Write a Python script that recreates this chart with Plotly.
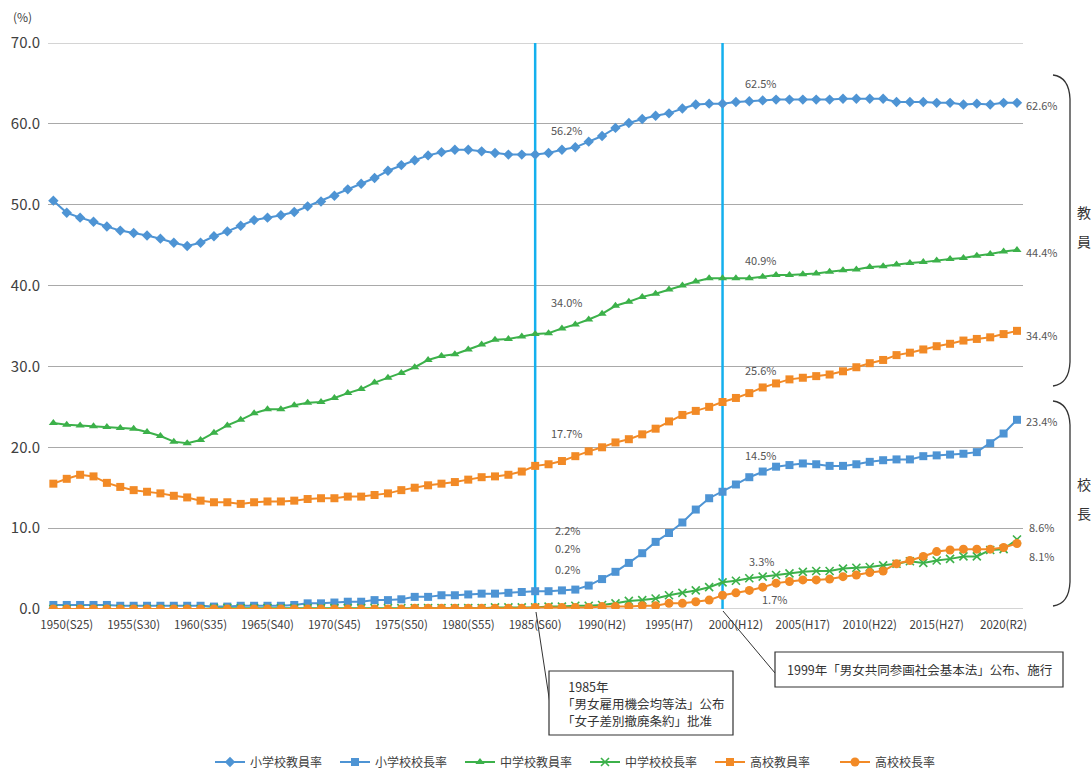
import plotly.graph_objects as go

# ---- data -------------------------------------------------------------
years = list(range(1949, 2022))

elem_teacher = [50.5, 49.0, 48.4, 47.9, 47.3, 46.8, 46.5, 46.2, 45.8, 45.3,
                44.9, 45.3, 46.1, 46.7, 47.4, 48.1, 48.4, 48.7, 49.1, 49.8,
                50.4, 51.1, 51.9, 52.6, 53.3, 54.2, 54.9, 55.5, 56.1, 56.5,
                56.8, 56.8, 56.6, 56.4, 56.2, 56.2, 56.2, 56.4, 56.8, 57.1,
                57.8, 58.5, 59.5, 60.1, 60.6, 61.0, 61.3, 61.9, 62.4, 62.5,
                62.5, 62.7, 62.8, 62.9, 63.0, 63.0, 63.0, 63.0, 63.0, 63.1,
                63.1, 63.1, 63.1, 62.7, 62.7, 62.7, 62.6, 62.6, 62.4, 62.5,
                62.4, 62.6, 62.6]

elem_principal = [0.5, 0.5, 0.5, 0.5, 0.5, 0.4, 0.4, 0.4, 0.4, 0.4,
                  0.4, 0.4, 0.3, 0.3, 0.4, 0.4, 0.4, 0.4, 0.5, 0.7,
                  0.7, 0.8, 0.9, 0.9, 1.1, 1.1, 1.2, 1.5, 1.5, 1.7,
                  1.7, 1.8, 1.9, 1.9, 2.0, 2.1, 2.2, 2.2, 2.3, 2.4,
                  2.9, 3.7, 4.6, 5.7, 6.9, 8.3, 9.4, 10.7, 12.3, 13.7,
                  14.5, 15.4, 16.3, 17.0, 17.6, 17.8, 18.0, 17.9, 17.7, 17.7,
                  17.9, 18.2, 18.4, 18.5, 18.5, 18.9, 19.0, 19.1, 19.2, 19.4,
                  20.5, 21.7, 23.4]

jhs_teacher = [23.0, 22.8, 22.7, 22.6, 22.5, 22.4, 22.3, 21.9, 21.4, 20.7,
               20.5, 20.9, 21.8, 22.7, 23.4, 24.2, 24.7, 24.7, 25.2, 25.5,
               25.6, 26.1, 26.7, 27.2, 28.0, 28.6, 29.2, 29.9, 30.8, 31.3,
               31.5, 32.1, 32.7, 33.3, 33.4, 33.7, 34.0, 34.1, 34.7, 35.2,
               35.8, 36.5, 37.5, 38.0, 38.6, 39.0, 39.5, 40.0, 40.5, 40.9,
               40.9, 40.9, 40.9, 41.1, 41.3, 41.3, 41.4, 41.5, 41.7, 41.9,
               42.0, 42.3, 42.4, 42.6, 42.8, 42.9, 43.1, 43.3, 43.4, 43.7,
               43.9, 44.2, 44.4]

jhs_principal = [0.0, 0.0, 0.0, 0.0, 0.0, 0.0, 0.0, 0.0, 0.0, 0.0,
                 0.0, 0.0, 0.1, 0.1, 0.1, 0.1, 0.1, 0.1, 0.1, 0.1,
                 0.1, 0.1, 0.1, 0.1, 0.1, 0.1, 0.1, 0.1, 0.1, 0.1,
                 0.1, 0.1, 0.1, 0.2, 0.2, 0.2, 0.2, 0.3, 0.3, 0.4,
                 0.4, 0.5, 0.7, 1.0, 1.1, 1.3, 1.7, 2.0, 2.3, 2.7,
                 3.3, 3.5, 3.8, 4.0, 4.2, 4.4, 4.6, 4.7, 4.7, 5.0,
                 5.1, 5.2, 5.4, 5.6, 5.9, 5.7, 6.0, 6.2, 6.5, 6.5,
                 7.3, 7.4, 8.6]

hs_teacher = [15.5, 16.1, 16.6, 16.4, 15.6, 15.1, 14.7, 14.5, 14.3, 14.0,
              13.8, 13.4, 13.2, 13.2, 13.0, 13.2, 13.3, 13.3, 13.4, 13.6,
              13.7, 13.7, 13.9, 13.9, 14.1, 14.3, 14.7, 15.0, 15.3, 15.5,
              15.7, 16.0, 16.3, 16.4, 16.6, 17.0, 17.7, 17.9, 18.3, 18.9,
              19.5, 20.0, 20.6, 21.0, 21.6, 22.3, 23.2, 24.0, 24.5, 25.0,
              25.6, 26.1, 26.7, 27.4, 27.9, 28.4, 28.6, 28.8, 29.0, 29.4,
              29.9, 30.4, 30.8, 31.4, 31.7, 32.1, 32.5, 32.8, 33.2, 33.4,
              33.6, 34.0, 34.4]

hs_principal = [0.0, 0.0, 0.0, 0.0, 0.0, 0.0, 0.0, 0.0, 0.0, 0.0,
                0.0, 0.0, 0.0, 0.0, 0.0, 0.0, 0.0, 0.0, 0.0, 0.0,
                0.0, 0.0, 0.0, 0.0, 0.0, 0.0, 0.0, 0.1, 0.1, 0.1,
                0.1, 0.1, 0.1, 0.1, 0.1, 0.1, 0.2, 0.2, 0.2, 0.2,
                0.2, 0.3, 0.3, 0.3, 0.4, 0.4, 0.7, 0.7, 0.9, 1.1,
                1.7, 2.0, 2.3, 2.7, 3.2, 3.4, 3.6, 3.6, 3.7, 4.0,
                4.2, 4.5, 4.7, 5.6, 6.0, 6.5, 7.1, 7.3, 7.4, 7.4,
                7.4, 7.6, 8.1]

tick_years = list(range(1950, 2021, 5))
tick_labels = ["1950(S25)", "1955(S30)", "1960(S35)", "1965(S40)", "1970(S45)",
               "1975(S50)", "1980(S55)", "1985(S60)", "1990(H2)", "1995(H7)",
               "2000(H12)", "2005(H17)", "2010(H22)", "2015(H27)", "2020(R2)"]

event_years = [1985, 1999]

# ---- styling ------------------------------------------------------------
FONT = "Noto Sans CJK JP"
BLUE = "#4E94D4"
GREEN = "#3CB14A"
ORANGE = "#F28A26"
EVENT = "#14B0EE"
GRID = "#A9A9A9"
TXT = "#404040"
LBL = "#555555"

series = [
    ("小学校教員率", elem_teacher, BLUE, dict(symbol="diamond", size=8)),
    ("小学校校長率", elem_principal, BLUE, dict(symbol="square", size=8)),
    ("中学校教員率", jhs_teacher, GREEN, dict(symbol="triangle-up", size=8)),
    ("中学校校長率", jhs_principal, GREEN, dict(symbol="x-thin-open", size=8,
                                             line=dict(width=1.6, color=GREEN))),
    ("高校教員率", hs_teacher, ORANGE, dict(symbol="square", size=8)),
    ("高校校長率", hs_principal, ORANGE, dict(symbol="circle", size=9)),
]

fig = go.Figure()
for name, vals, color, marker in series:
    fig.add_trace(go.Scatter(
        x=years, y=vals, name=name, mode="lines+markers",
        line=dict(color=color, width=2),
        marker=dict(color=color, **marker),
        hovertemplate="%{x}: %{y:.1f}%<extra>" + name + "</extra>",
    ))

# plot area in pixels (used for the decorations outside the axes)
L, T, W, H = 48, 43, 975, 566
FIG_W, FIG_H = 1092, 770


def px(x):
    return (x - L) / W


def py(y):
    return (T + H - y) / H


shapes = []
annotations = []

# horizontal rules at the ends of the value range
for yv in (0, 70):
    shapes.append(dict(type="line", xref="paper", yref="y", x0=0, x1=1, y0=yv, y1=yv,
                       line=dict(color=GRID, width=1), layer="below"))

# vertical event lines
for yr in event_years:
    shapes.append(dict(type="line", xref="x", yref="y", x0=yr, x1=yr, y0=0, y1=70,
                       line=dict(color=EVENT, width=2.5), layer="between"))


def val(arr, yr):
    return arr[years.index(yr)]


# value labels next to the event lines
label_specs = [
    (elem_teacher, 1985, 1987.4, 59.3),
    (jhs_teacher, 1985, 1987.4, 38.0),
    (hs_teacher, 1985, 1987.4, 21.8),
    (elem_principal, 1985, 1987.4, 9.8),
    (jhs_principal, 1985, 1987.4, 7.6),
    (hs_principal, 1985, 1987.4, 5.0),
    (elem_teacher, 1999, 2001.9, 65.1),
    (jhs_teacher, 1999, 2001.9, 43.2),
    (hs_teacher, 1999, 2001.9, 29.6),
    (elem_principal, 1999, 2001.9, 19.1),
    (jhs_principal, 1999, 2001.9, 5.9),
    (hs_principal, 1999, 2002.9, 1.2),
]
for arr, yr, lx, ly in label_specs:
    annotations.append(dict(x=lx, y=ly, xref="x", yref="y", showarrow=False,
                            text=f"{val(arr, yr):.1f}%", xanchor="center", yanchor="middle",
                            font=dict(family=FONT, size=11, color=LBL)))

# labels for the latest year, right of the plot
end_specs = [
    (elem_teacher, 62.3),
    (jhs_teacher, 44.1),
    (hs_teacher, 33.9),
    (elem_principal, 23.2),
    (jhs_principal, 10.2),
    (hs_principal, 6.6),
]
for arr, ly in end_specs:
    annotations.append(dict(x=px(1041.5), y=ly, xref="paper", yref="y", showarrow=False,
                            text=f"{arr[-1]:.1f}%", xanchor="center", yanchor="middle",
                            font=dict(family=FONT, size=11, color=LBL)))


# right-hand braces grouping teachers / principals
def brace(top, bottom, x_tip=1053, x_bar=1070):
    return (f"M {px(x_tip)},{py(top)} "
            f"Q {px(x_bar - 1)},{py(top + 2)} {px(x_bar)},{py(top + 24)} "
            f"L {px(x_bar)},{py(bottom - 24)} "
            f"Q {px(x_bar - 1)},{py(bottom - 2)} {px(x_tip)},{py(bottom)}")


for top, bottom in [(75, 386), (401, 606)]:
    shapes.append(dict(type="path", xref="paper", yref="paper", path=brace(top, bottom),
                       line=dict(color="#333333", width=1.3)))

for ch, yy in [("教", 212), ("員", 241), ("校", 484), ("長", 513)]:
    annotations.append(dict(x=px(1084), y=py(yy), xref="paper", yref="paper", showarrow=False,
                            text=ch, xanchor="center", yanchor="middle",
                            font=dict(family=FONT, size=14, color="#333333")))

# unit label
annotations.append(dict(x=px(22), y=py(17), xref="paper", yref="paper", showarrow=False,
                        text="(%)", xanchor="center", yanchor="middle",
                        font=dict(family=FONT, size=12, color=TXT)))

# event callout boxes and leader lines
shapes.append(dict(type="line", xref="paper", yref="paper",
                   x0=px(536), y0=py(612), x1=px(550), y1=py(704),
                   line=dict(color="#333333", width=1)))
shapes.append(dict(type="rect", xref="paper", yref="paper",
                   x0=px(549), y0=py(735), x1=px(733), y1=py(671),
                   line=dict(color="#333333", width=1.2), fillcolor="white"))
box1_lines = ["\u20021985年", "「男女雇用機会均等法」公布", "「女子差別撤廃条約」批准"]
for line_txt, yy in zip(box1_lines, [686, 703, 720]):
    annotations.append(dict(x=px(560), y=py(yy), xref="paper", yref="paper", showarrow=False,
                            text=line_txt, align="left", xanchor="left", yanchor="middle",
                            font=dict(family=FONT, size=12.5, color="#333333")))

shapes.append(dict(type="line", xref="paper", yref="paper",
                   x0=px(723), y0=py(611), x1=px(775), y1=py(673),
                   line=dict(color="#333333", width=1)))
shapes.append(dict(type="rect", xref="paper", yref="paper",
                   x0=px(775), y0=py(687), x1=px(1063), y1=py(652),
                   line=dict(color="#333333", width=1.2), fillcolor="white"))
annotations.append(dict(x=px(919), y=py(669), xref="paper", yref="paper", showarrow=False,
                        text="1999年「男女共同参画社会基本法」公布、施行",
                        xanchor="center", yanchor="middle",
                        font=dict(family=FONT, size=12.5, color="#333333")))

fig.update_layout(
    width=FIG_W, height=FIG_H,
    margin=dict(l=L, r=FIG_W - L - W, t=T, b=FIG_H - T - H, pad=0, autoexpand=False),
    paper_bgcolor="white", plot_bgcolor="white",
    font=dict(family=FONT, color=TXT),
    showlegend=True,
    legend=dict(orientation="h", xref="container", yref="container",
                x=585 / FIG_W, xanchor="center", y=(FIG_H - 762) / FIG_H, yanchor="middle",
                entrywidth=80, entrywidthmode="pixels",
                font=dict(family=FONT, size=12, color=TXT), bgcolor="rgba(0,0,0,0)"),
    xaxis=dict(range=[1948.6, 2021.45], tickmode="array", tickvals=tick_years,
               ticktext=tick_labels, showgrid=False, zeroline=False, showline=False,
               ticks="", tickfont=dict(family=FONT, size=11.5, color=TXT),
               ticklabelstandoff=7, automargin=False),
    yaxis=dict(range=[0, 70], dtick=10, tickformat=".1f", showgrid=True,
               gridcolor=GRID, gridwidth=1, zeroline=False, showline=False, ticks="",
               tickfont=dict(family=FONT, size=15, color=TXT), ticklabelstandoff=7,
               automargin=False),
    shapes=shapes,
    annotations=annotations,
)

fig.write_html("out.html")
